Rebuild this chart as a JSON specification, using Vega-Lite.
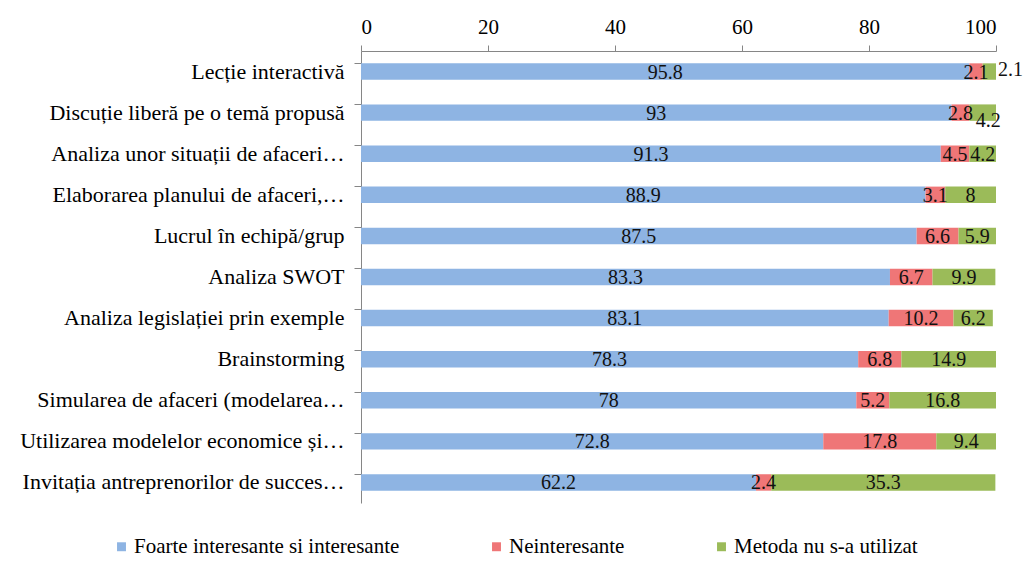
{
  "$schema": "https://vega.github.io/schema/vega-lite/v6.json",
  "width": 635,
  "height": 452,
  "autosize": {"type": "none"},
  "padding": {"left": 361, "top": 51, "right": 28, "bottom": 63},
  "background": "white",
  "config": {
    "font": "Times New Roman, Liberation Serif, serif",
    "view": {"stroke": null},
    "text": {"font": "Times New Roman, Liberation Serif, serif"},
    "axis": {"labelFont": "Times New Roman, Liberation Serif, serif", "labelColor": "#000", "domainColor": "#868686", "tickColor": "#868686", "grid": false, "title": null},
    "legend": {"labelFont": "Times New Roman, Liberation Serif, serif"}
  },
  "data": {
    "values": [
      {"metoda": "Lecție  interactivă", "cat": "Foarte interesante si interesante", "ord": 1, "val": 95.8},
      {"metoda": "Lecție  interactivă", "cat": "Neinteresante", "ord": 2, "val": 2.1},
      {"metoda": "Lecție  interactivă", "cat": "Metoda nu s-a utilizat", "ord": 3, "val": 2.1},
      {"metoda": "Discuție liberă pe o temă propusă", "cat": "Foarte interesante si interesante", "ord": 1, "val": 93},
      {"metoda": "Discuție liberă pe o temă propusă", "cat": "Neinteresante", "ord": 2, "val": 2.8},
      {"metoda": "Discuție liberă pe o temă propusă", "cat": "Metoda nu s-a utilizat", "ord": 3, "val": 4.2},
      {"metoda": "Analiza unor situații de afaceri…", "cat": "Foarte interesante si interesante", "ord": 1, "val": 91.3},
      {"metoda": "Analiza unor situații de afaceri…", "cat": "Neinteresante", "ord": 2, "val": 4.5},
      {"metoda": "Analiza unor situații de afaceri…", "cat": "Metoda nu s-a utilizat", "ord": 3, "val": 4.2},
      {"metoda": "Elaborarea planului de afaceri,…", "cat": "Foarte interesante si interesante", "ord": 1, "val": 88.9},
      {"metoda": "Elaborarea planului de afaceri,…", "cat": "Neinteresante", "ord": 2, "val": 3.1},
      {"metoda": "Elaborarea planului de afaceri,…", "cat": "Metoda nu s-a utilizat", "ord": 3, "val": 8},
      {"metoda": "Lucrul în echipă/grup", "cat": "Foarte interesante si interesante", "ord": 1, "val": 87.5},
      {"metoda": "Lucrul în echipă/grup", "cat": "Neinteresante", "ord": 2, "val": 6.6},
      {"metoda": "Lucrul în echipă/grup", "cat": "Metoda nu s-a utilizat", "ord": 3, "val": 5.9},
      {"metoda": "Analiza SWOT", "cat": "Foarte interesante si interesante", "ord": 1, "val": 83.3},
      {"metoda": "Analiza SWOT", "cat": "Neinteresante", "ord": 2, "val": 6.7},
      {"metoda": "Analiza SWOT", "cat": "Metoda nu s-a utilizat", "ord": 3, "val": 9.9},
      {"metoda": "Analiza legislației  prin exemple", "cat": "Foarte interesante si interesante", "ord": 1, "val": 83.1},
      {"metoda": "Analiza legislației  prin exemple", "cat": "Neinteresante", "ord": 2, "val": 10.2},
      {"metoda": "Analiza legislației  prin exemple", "cat": "Metoda nu s-a utilizat", "ord": 3, "val": 6.2},
      {"metoda": "Brainstorming", "cat": "Foarte interesante si interesante", "ord": 1, "val": 78.3},
      {"metoda": "Brainstorming", "cat": "Neinteresante", "ord": 2, "val": 6.8},
      {"metoda": "Brainstorming", "cat": "Metoda nu s-a utilizat", "ord": 3, "val": 14.9},
      {"metoda": "Simularea  de afaceri (modelarea…", "cat": "Foarte interesante si interesante", "ord": 1, "val": 78},
      {"metoda": "Simularea  de afaceri (modelarea…", "cat": "Neinteresante", "ord": 2, "val": 5.2},
      {"metoda": "Simularea  de afaceri (modelarea…", "cat": "Metoda nu s-a utilizat", "ord": 3, "val": 16.8},
      {"metoda": "Utilizarea modelelor  economice  și…", "cat": "Foarte interesante si interesante", "ord": 1, "val": 72.8},
      {"metoda": "Utilizarea modelelor  economice  și…", "cat": "Neinteresante", "ord": 2, "val": 17.8},
      {"metoda": "Utilizarea modelelor  economice  și…", "cat": "Metoda nu s-a utilizat", "ord": 3, "val": 9.4},
      {"metoda": "Invitația antreprenorilor de succes…", "cat": "Foarte interesante si interesante", "ord": 1, "val": 62.2},
      {"metoda": "Invitația antreprenorilor de succes…", "cat": "Neinteresante", "ord": 2, "val": 2.4},
      {"metoda": "Invitația antreprenorilor de succes…", "cat": "Metoda nu s-a utilizat", "ord": 3, "val": 35.3}
    ]
  },
  "encoding": {
    "y": {
      "field": "metoda", "type": "nominal", "sort": null,
      "scale": {"paddingInner": 0.6, "paddingOuter": 0.3},
      "axis": {"bandPosition": 0, "tickSize": 7, "labelPadding": 10, "labelFontSize": 22, "labelLimit": 360}
    },
    "order": {"field": "ord", "type": "quantitative"}
  },
  "layer": [
    {
      "mark": {"type": "bar"},
      "encoding": {
        "x": {
          "field": "val", "type": "quantitative", "stack": "zero",
          "scale": {"domain": [0, 100], "nice": false},
          "axis": {"orient": "top", "values": [0, 20, 40, 60, 80, 100], "tickSize": 6, "labelPadding": 8, "labelFontSize": 21}
        },
        "color": {
          "field": "cat", "type": "nominal",
          "scale": {"domain": ["Foarte interesante si interesante", "Neinteresante", "Metoda nu s-a utilizat"], "range": ["#8eb4e3", "#ef7677", "#9bbb59"]},
          "legend": {
            "title": null, "orient": "none", "direction": "horizontal", "legendX": -250, "legendY": 485,
            "symbolType": "square", "symbolSize": 80, "symbolStrokeWidth": 0, "labelFontSize": 21, "labelColor": "#000",
            "labelLimit": 400, "columnPadding": 86, "labelOffset": 2
          }
        }
      }
    },
    {
      "mark": {"type": "text", "fontSize": 20, "color": "#111", "baseline": "middle", "align": "center", "dy": 1},
      "encoding": {
        "x": {"field": "val", "type": "quantitative", "stack": "zero", "bandPosition": 0.5},
        "detail": {"field": "cat", "type": "nominal"},
        "text": {"field": "val", "type": "quantitative"},
        "opacity": {
          "condition": {"test": "(datum.metoda === 'Lecție  interactivă' || datum.metoda === 'Discuție liberă pe o temă propusă') && datum.cat === 'Metoda nu s-a utilizat'", "value": 0},
          "value": 1
        }
      }
    },
    {
      "transform": [
        {"stack": "val", "groupby": ["metoda"], "sort": [{"field": "ord"}], "as": ["s0", "s1"]},
        {"filter": "datum.metoda === 'Lecție  interactivă' && datum.cat === 'Metoda nu s-a utilizat'"}
      ],
      "mark": {"type": "text", "fontSize": 20, "color": "#111", "baseline": "middle", "align": "left", "dx": 2, "dy": -2},
      "encoding": {
        "x": {"field": "s1", "type": "quantitative"},
        "text": {"field": "val", "type": "quantitative"}
      }
    },
    {
      "transform": [
        {"stack": "val", "groupby": ["metoda"], "sort": [{"field": "ord"}], "as": ["s0", "s1"]},
        {"filter": "datum.metoda === 'Discuție liberă pe o temă propusă' && datum.cat === 'Metoda nu s-a utilizat'"}
      ],
      "mark": {"type": "text", "fontSize": 20, "color": "#111", "baseline": "middle", "align": "center", "dx": 19, "dy": 8},
      "encoding": {
        "x": {"field": "s0", "type": "quantitative"},
        "text": {"field": "val", "type": "quantitative"}
      }
    }
  ]
}
